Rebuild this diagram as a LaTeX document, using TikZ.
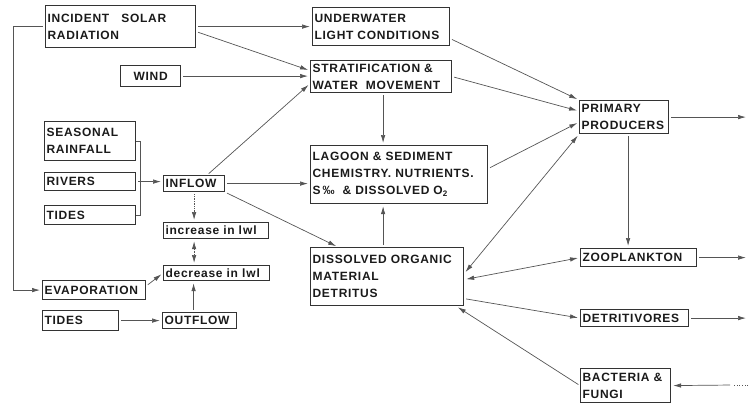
\documentclass[tikz,border=0pt]{standalone}
\usepackage{fontspec}
\setmainfont{Liberation Sans}[LetterSpace=6]
\usetikzlibrary{arrows.meta}

\begin{document}
\begin{tikzpicture}[x=1pt, y=-1pt, >={Latex[length=8pt,width=4.5pt]}]

\definecolor{tcolor}{HTML}{1A1A1A}
\definecolor{bcolor}{HTML}{333333}
\definecolor{lcolor}{HTML}{555555}

\tikzstyle{factor}=[draw=bcolor, line width=1.2pt, text=tcolor, anchor=north west, align=left, inner xsep=2pt, inner ysep=1pt, font=\bfseries\fontsize{12}{17}\selectfont]
\tikzstyle{arrow}=[line width=0.7pt, color=lcolor, shorten >=2pt, shorten <=2pt]
\tikzstyle{bracket}=[line width=0.7pt, color=lcolor]
\tikzstyle{lwlline}=[arrow, densely dotted]

%\draw[help lines] (0,0) grid (749,408);
\useasboundingbox (0,0) rectangle (749,408);

% physical factors
\node[factor, text width=146pt, minimum height=42pt] (isr) at (45,5) {INCIDENT\quad SOLAR\\RADIATION};
\node[factor, align=center, text width=56pt, minimum height=21pt] (wind) at (120,65) {WIND};
\node[factor, text width=87pt, minimum height=39pt] (rain) at (44,121) {SEASONAL\\RAINFALL};
\node[factor, text width=87pt, minimum height=18pt] (riv) at (44,172) {RIVERS};
\node[factor, text width=87pt, minimum height=19pt] (tid1) at (44,205) {TIDES};
\node[factor, text width=57pt, minimum height=16pt] (inf) at (163,175) {INFLOW};
\node[factor, text width=101pt, minimum height=16pt] (inc) at (163,222) {increase in l\kern1pt w\kern1pt l};
\node[factor, text width=102pt, minimum height=15pt] (dec) at (163,265) {decrease in l\kern1pt w\kern1pt l};
\node[factor, text width=99pt, minimum height=19pt] (evap) at (42,280) {EVAPORATION};
\node[factor, text width=72pt, minimum height=20pt] (tid2) at (42,310) {TIDES};
\node[factor, text width=70pt, minimum height=16pt] (out) at (162,312) {OUTFLOW};

% lagoon
\node[factor, text width=133pt, minimum height=38pt] (uwlc) at (312,7) {UNDERWATER\\LIGHT CONDITIONS};
\node[factor, text width=137pt, minimum height=32pt] (strat) at (310,60) {STRATIFICATION \&\\WATER\ \ MOVEMENT};
\node[factor, text width=173pt, minimum height=58pt] (lag) at (310,145) {LAGOON \& SEDIMENT\\CHEMISTRY. NUTRIENTS.\\S\,‰\ \ \& DISSOLVED O\textsubscript{2}};
\node[factor, text width=149pt, minimum height=58pt] (dom) at (310,247) {DISSOLVED ORGANIC\\MATERIAL\\DETRITUS};

% biota
\node[factor, text width=85pt, minimum height=33pt] (pp) at (579,100) {PRIMARY\\PRODUCERS};
\node[factor, text width=112pt, minimum height=18pt] (zoo) at (580,248) {ZOOPLANKTON};
\node[factor, text width=104pt, minimum height=17pt] (det) at (580,309) {DETRITIVORES};
\node[factor, text width=86pt, minimum height=34pt] (bac) at (580,368) {BACTERIA \&\\FUNGI};

\coordinate (rightedge) at (748,0);
\coordinate (bacstart) at (748,385);
\coordinate (bacdots) at (732,385);

% water level
\draw[arrow, ->] (isr.west) -- ++(-32,0) |- (evap.west);
\draw[bracket] (rain.east) -- ++(4,0) |- (tid1.east);
\draw[arrow, ->] (riv.east) -- (riv.east -| inf.west);
\draw[lwlline, ->] (inf.south) -- (inf.south |- inc.north);
\draw[lwlline, <->] (inf.south |- inc.south) -- (inf.south |- dec.north);
\draw[arrow, ->] ([xshift=-6pt]out.north) -- ([xshift=-6pt]out.north |- dec.south);
\draw[arrow, ->] ([yshift=-6pt]evap.north east) -- (dec.west);
\draw[arrow, ->] (tid2.east) -- (out.west);

% into the lagoon
\draw[arrow, ->] (isr.east) -- (isr.east -| uwlc.west);
\draw[arrow, ->] ([yshift=-5pt]isr.east) -- ([yshift=6pt]strat.west);
\draw[arrow, ->] (wind.east) -- (wind.east -| strat.west);
\draw[arrow, ->] ([xshift=-18pt]inf.north east) -- ([yshift=-7pt]strat.west);
\draw[arrow, ->] (inf.east) -- (inf.east -| lag.west);
\draw[arrow, ->] (inf.south east) -- ([xshift=28pt]dom.north west);
\draw[arrow, ->] ([xshift=2pt]strat.south) -- ([xshift=2pt]strat.south |- lag.north);
\draw[arrow, ->] ([xshift=-4pt]dom.north) -- ([xshift=-4pt]dom.north |- lag.south);

% biota
\draw[arrow, ->] ([yshift=-12pt]uwlc.east) -- (pp.north west);
\draw[arrow, ->] (strat.east) -- ([yshift=6pt]pp.west);
\draw[arrow, ->] ([yshift=6pt]lag.east) -- ([yshift=-5pt]pp.west);
\draw[arrow, <->] ([yshift=3pt]dom.east) -- (pp.south west);
\draw[arrow, <->] ([yshift=-3pt]dom.east) -- (zoo.west);
\draw[arrow, ->] ([yshift=-22pt]dom.east) -- (det.west);
\draw[arrow, ->] (bac.west) -- ([xshift=-8pt]dom.south east);
\draw[arrow, ->] ([xshift=4pt]pp.south) -- ([xshift=4pt]pp.south |- zoo.north);
\draw[arrow, ->] (pp.east) -- (pp.east -| rightedge);
\draw[arrow, ->] (zoo.east) -- (zoo.east -| rightedge);
\draw[arrow, ->] (det.east) -- (det.east -| rightedge);
\draw[bracket, dotted] (bacstart) -- (bacdots);
\draw[arrow, ->] (bacdots) -- (bac.east);

\end{tikzpicture}
\end{document}
